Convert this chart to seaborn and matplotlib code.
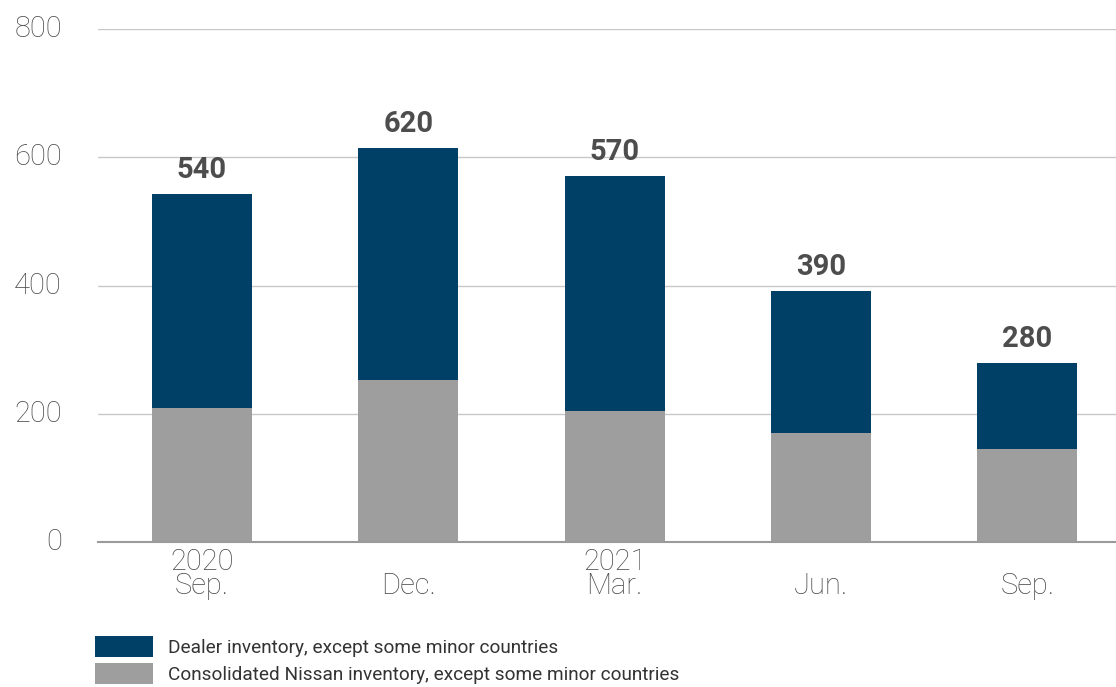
import matplotlib
matplotlib.use("Agg")
import matplotlib.pyplot as plt
import seaborn as sns
import pandas as pd
from matplotlib.patches import Patch

years = ["2020", "", "2021", "", ""]
months = ["Sep.", "Dec.", "Mar.", "Jun.", "Sep."]
categories = [f"{y}\n{m}" for y, m in zip(years, months)]
consolidated = [209, 253, 204, 170, 145]
total = [543, 615, 571, 392, 279]
total_labels = ["540", "620", "570", "390", "280"]
yticks = [0, 200, 400, 600, 800]

dark = "#003f66"
gray = "#9e9e9e"
text_col = "#4a4a4a"

sns.set_theme(style="white")
plt.rcParams["font.family"] = ["Roboto", "DejaVu Sans"]

df = pd.DataFrame({"cat": categories, "total": total, "cons": consolidated})

fig = plt.figure(figsize=(11.16, 6.87), dpi=100)
ax = fig.add_axes([98/1116, 1-542/687, 1-98/1116, (542-29)/687])

sns.barplot(data=df, x="cat", y="total", color=dark, saturation=1, width=0.485,
            ax=ax, zorder=3, linewidth=0, edgecolor="none")
sns.barplot(data=df, x="cat", y="cons", color=gray, saturation=1, width=0.485,
            ax=ax, zorder=4, linewidth=0, edgecolor="none")

ax.set_ylim(0, 800)
ax.set_xlim(-0.504, 4.43)
ax.set_yticks(yticks)
ax.set_yticklabels([str(t) for t in yticks])
ax.yaxis.grid(True, color="#c8c8c8", linewidth=1)
ax.set_axisbelow(True)
for s in ["top", "right", "left"]:
    ax.spines[s].set_visible(False)
ax.spines["bottom"].set_color("#9a9a9a")
ax.spines["bottom"].set_linewidth(1.5)
ax.spines["bottom"].set_zorder(5)
ax.set_xlabel("")
ax.set_ylabel("")
ax.tick_params(axis="y", length=0, pad=26, labelsize=21, labelcolor=text_col)
ax.tick_params(axis="x", length=0, pad=4, labelsize=21, labelcolor=text_col)
for lbl in ax.get_yticklabels():
    lbl.set_fontweight("light")
    lbl.set_verticalalignment("center")
for lbl in ax.get_xticklabels():
    lbl.set_fontweight("light")
    lbl.set_linespacing(0.85)

for i, (v, t) in enumerate(zip(total, total_labels)):
    ax.annotate(t, (i, v), xytext=(0, 7), textcoords="offset points",
                ha="center", va="bottom", fontsize=21, fontweight="bold", color="#4d4d4d")

handles = [Patch(facecolor=dark, edgecolor="none"), Patch(facecolor=gray, edgecolor="none")]
labels = ["Dealer inventory, except some minor countries",
          "Consolidated Nissan inventory, except some minor countries"]
fig.legend(handles, labels, loc="upper left", bbox_to_anchor=(95/1116, 1-636/687),
           frameon=False, fontsize=13.7, handlelength=3.05, handleheight=1.3,
           labelspacing=0.33, handletextpad=0.8, borderpad=0, borderaxespad=0,
           labelcolor="#333333")

fig.savefig("out.png", dpi=100)
